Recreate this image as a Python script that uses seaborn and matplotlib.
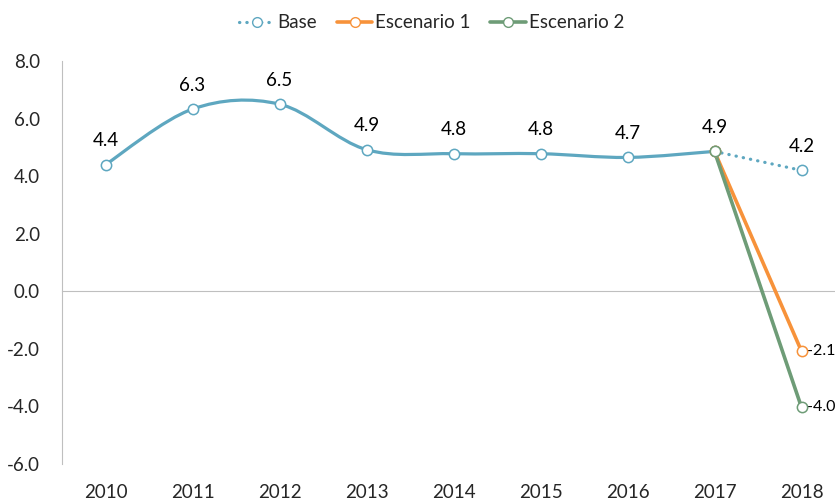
import numpy as np
import seaborn as sns
import matplotlib.pyplot as plt
from matplotlib.path import Path
from matplotlib.patches import PathPatch
from matplotlib.lines import Line2D

# Data
years = ['2010', '2011', '2012', '2013', '2014', '2015', '2016', '2017', '2018']
base = [4.4, 6.33, 6.5, 4.92, 4.78, 4.78, 4.65, 4.86, 4.2]
base_labels = ['4.4', '6.3', '6.5', '4.9', '4.8', '4.8', '4.7', '4.9', '4.2']
esc_years = ['2017', '2018']
esc1 = [4.86, -2.08]
esc2 = [4.86, -4.03]
esc1_label = '-2.1'
esc2_label = '-4.0'

BLUE = '#5ea7c0'
ORANGE = '#f7923a'
GREEN = '#6e9c77'
GRAY = '#bfbfbf'

sns.set_style('white')
plt.rcParams['font.family'] = ['Lato', 'DejaVu Sans']
FS = 13.5

fig = plt.figure(figsize=(8.35, 5), dpi=100)
ax = fig.add_axes([62 / 835, 36 / 500, 783 / 835, 403 / 500])

pos = {y: i for i, y in enumerate(years)}
xb = np.array([pos[y] for y in years], dtype=float)
yb = np.array(base)
xe = [pos[y] for y in esc_years]

# smoothed solid segment of Base (2010-2017), Excel-like bezier smoothing
n = 8
verts = [(xb[0], yb[0])]
codes = [Path.MOVETO]
for i in range(n - 1):
    p0 = np.array([xb[max(i - 1, 0)], yb[max(i - 1, 0)]])
    p1 = np.array([xb[i], yb[i]])
    p2 = np.array([xb[i + 1], yb[i + 1]])
    p3 = np.array([xb[min(i + 2, n - 1)], yb[min(i + 2, n - 1)]])
    c1 = p1 + (p2 - p0) / 6
    c2 = p2 - (p3 - p1) / 6
    verts += [tuple(c1), tuple(c2), tuple(p2)]
    codes += [Path.CURVE4] * 3
ax.add_patch(PathPatch(Path(verts, codes), fill=False, edgecolor=BLUE,
                       lw=2.3, capstyle='round', joinstyle='round', zorder=3))

# dotted Base segment 2017-2018
sns.lineplot(x=xb[7:], y=yb[7:], ax=ax, color=BLUE, lw=2.3,
             linestyle=(0, (0.1, 2.2)), dash_capstyle='round', zorder=3)

# scenarios
sns.lineplot(x=xe, y=esc1, ax=ax, color=ORANGE, lw=2.6, zorder=4)
sns.lineplot(x=xe, y=esc2, ax=ax, color=GREEN, lw=2.6, zorder=4)

# markers
sns.scatterplot(x=xb, y=yb, ax=ax, s=55, facecolor='white', edgecolor=BLUE,
                linewidth=1.1, zorder=6)
sns.scatterplot(x=xe, y=esc1, ax=ax, s=55, facecolor='white', edgecolor=ORANGE,
                linewidth=1.1, zorder=7)
sns.scatterplot(x=xe, y=esc2, ax=ax, s=55, facecolor='white', edgecolor=GREEN,
                linewidth=1.1, zorder=8)

# data labels
for x, y, t in zip(xb, yb, base_labels):
    ax.annotate(t, (x, y), xytext=(0, 11), textcoords='offset points',
                ha='center', va='bottom', fontsize=FS, color='black')
ax.annotate(esc1_label, (xe[1], esc1[1]), xytext=(4, 0), textcoords='offset points',
            ha='left', va='center', fontsize=11.5, color='black')
ax.annotate(esc2_label, (xe[1], esc2[1]), xytext=(4, 0), textcoords='offset points',
            ha='left', va='center', fontsize=11.5, color='black')

# axes styling
ax.set_xlim(-0.5, len(years) - 0.5)
ax.set_ylim(-6, 8)
ax.set_yticks(np.arange(-6, 8.1, 2))
ax.set_yticklabels([f'{v:.1f}' for v in np.arange(-6, 8.1, 2)])
ax.set_xticks(range(len(years)))
ax.set_xticklabels(years)
ax.set_xticks(np.arange(0.5, len(years) - 1, 1), minor=True)

for s in ['top', 'right']:
    ax.spines[s].set_visible(False)
ax.spines['left'].set_color(GRAY)
ax.spines['bottom'].set_color(GRAY)
ax.spines['bottom'].set_position(('data', 0))
ax.tick_params(axis='y', direction='out', length=6, width=1, color=GRAY, pad=10,
               labelsize=FS)
ax.tick_params(axis='x', which='major', length=0, pad=139, labelsize=FS)
ax.tick_params(axis='x', which='minor', direction='out', length=5, width=1, color=GRAY)
ax.set_xlabel('')
ax.set_ylabel('')

# legend
handles = [
    Line2D([], [], color=BLUE, lw=2.3, linestyle=(0, (0.1, 2.2)), dash_capstyle='round',
           marker='o', markersize=7, markerfacecolor='white', markeredgecolor=BLUE),
    Line2D([], [], color=ORANGE, lw=2.6, marker='o', markersize=7,
           markerfacecolor='white', markeredgecolor=ORANGE),
    Line2D([], [], color=GREEN, lw=2.6, marker='o', markersize=7,
           markerfacecolor='white', markeredgecolor=GREEN),
]
fig.legend(handles, ['Base', 'Escenario 1', 'Escenario 2'], loc='upper center',
           bbox_to_anchor=(0.517, 1.005), ncol=3, frameon=False, fontsize=FS,
           handlelength=1.9, handletextpad=0.15, columnspacing=1.05)

fig.savefig('out.png', dpi=100)
